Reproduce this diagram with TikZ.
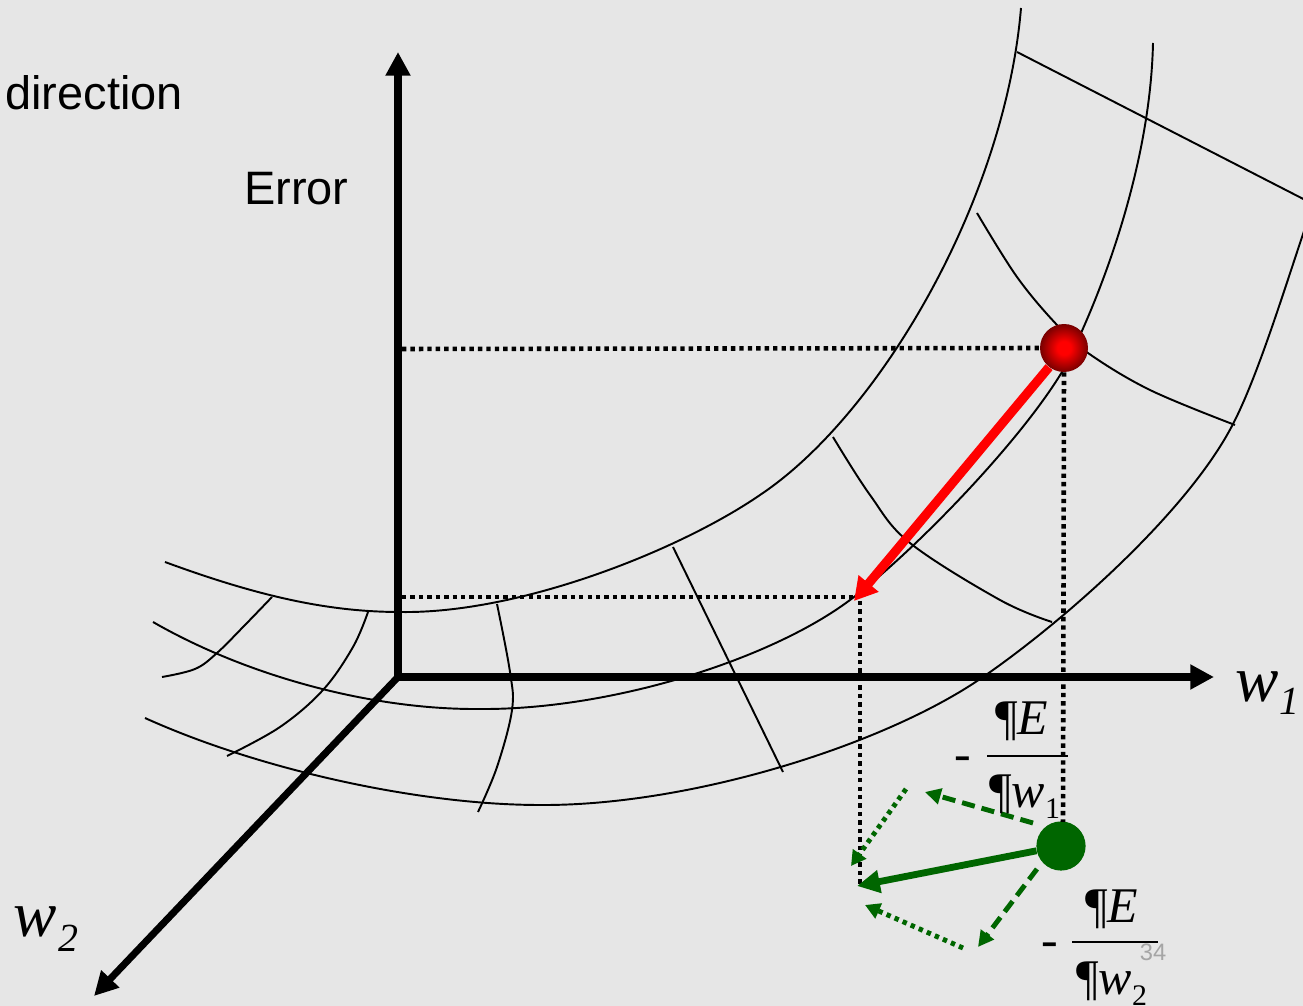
\documentclass[tikz,border=0pt]{standalone}
\usepackage{fontspec}
\setmainfont{Liberation Serif}
\newfontfamily\labelfont{Liberation Sans}
\usetikzlibrary{arrows.meta}
\definecolor{bgc}{RGB}{230,230,230}
\definecolor{dkgreen}{RGB}{0,102,0}
\definecolor{ballred}{RGB}{255,0,0}
\definecolor{balldark}{RGB}{120,0,0}
\definecolor{pagegray}{RGB}{165,165,165}
\pgfdeclareradialshading{redballshade}{\pgfpoint{0bp}{0bp}}{color(0bp)=(ballred); color(7bp)=(ballred); color(25bp)=(balldark); color(50bp)=(balldark)}
\begin{document}
\begin{tikzpicture}[x=0.02cm,y=-0.02cm,
  surf/.style={line width=1.1pt},
  axisline/.style={line width=4pt},
  guide/.style={line width=2.6pt,dash pattern=on 2.5pt off 2.3pt},
  redarrow/.style={line width=5.2pt,draw=ballred,-{Triangle[length=13pt,width=14pt]}},
  gsolid/.style={line width=3.9pt,draw=dkgreen,-{Triangle[length=13pt,width=12.5pt,fill=dkgreen]}},
  gdashed/.style={line width=2.8pt,draw=dkgreen,dash pattern=on 7.5pt off 4pt,-{Triangle[length=9pt,width=9pt]}},
  gdotted/.style={line width=2.8pt,draw=dkgreen,dash pattern=on 2.5pt off 2.5pt,-{Triangle[length=8.5pt,width=9pt]}},
  sanslabel/.style={font=\labelfont\fontsize{26.7pt}{32pt}\selectfont,inner sep=0pt},
  serif/.style={inner sep=0pt,font=\fontsize{28.4pt}{32pt}\selectfont},
  axislabel/.style={inner sep=0pt,font=\fontsize{37pt}{40pt}\selectfont\itshape}
]
\fill[bgc] (0,0) rectangle (1303,1006);
\useasboundingbox (0,0) rectangle (1303,1006);

\begin{scope}
\clip (0,0) rectangle (1303,1006);
% surface curves
\draw[surf] (165,562) .. controls (260,597) and (330,612) .. (400,612)
  .. controls (520,614) and (680,550) .. (760,495)
  .. controls (880,415) and (1005,200) .. (1021,8);
\draw[surf] (153,622) .. controls (245,675) and (370,710) .. (480,709)
  .. controls (610,710) and (770,660) .. (850,600)
  .. controls (910,555) and (1017,446) .. (1062,372)
  .. controls (1090,320) and (1150,180) .. (1153,43);
\draw[surf] (145,718) .. controls (260,770) and (420,805) .. (540,805)
  .. controls (690,806) and (885,745) .. (983,677)
  .. controls (1063,622) and (1188,512) .. (1233,424)
  .. controls (1263,366) and (1295,253) .. (1320,185);
% cross lines
\draw[surf] plot[smooth,tension=0.6] coordinates {(162,677) (195,669) (217,653) (245,625) (272,597)};
\draw[surf] plot[smooth,tension=0.6] coordinates {(368,612) (353,647) (323,690) (280,727) (227,756)};
\draw[surf] plot[smooth,tension=0.6] coordinates {(497,604) (510,672) (512,710) (497,767) (478,812)};
\draw[surf] (673,547) -- (783,772);
\draw[surf] plot[smooth,tension=0.6] coordinates {(833,437) (870,495) (910,543) (1000,600) (1052,622)};
\draw[surf] plot[smooth,tension=0.6] coordinates {(977,213) (1017,277) (1057,325) (1088,353) (1150,390) (1235,425)};
\draw[surf] (1017,52) -- (1315,205);
\end{scope}

% axes
\coordinate (O) at (398,677);
\coordinate (ytip) at (398,52);
\coordinate (xtip) at (1214,677);
\coordinate (ztip) at (94,996);
\draw[axisline,{Triangle[length=13.5pt,width=13.5pt]}-{Triangle[length=13.5pt,width=13.5pt]}] (ytip) -- (O) -- (xtip);
\draw[axisline,line cap=round,-{Triangle[length=13.5pt,width=13.5pt]}] (O) -- (ztip);

% balls
\node[circle,minimum size=27.3pt,inner sep=0pt,shading=redballshade] (redball) at (1064,348) {};
\node[circle,minimum size=28pt,inner sep=0pt,fill=dkgreen] (greenball) at (1061,846) {};

% dotted guides
\coordinate (g1a) at (402,349);
\coordinate (g2a) at (1063,822);
\coordinate (g3a) at (402,597);
\coordinate (g3b) at (857,597);
\coordinate (g4a) at (860,601);
\coordinate (g4b) at (860,886);
\draw[guide] (g1a) -- (redball.west);
\draw[guide] (redball.south) -- (g2a);
\draw[guide] (g3a) -- (g3b);
\draw[guide] (g4a) -- (g4b);

% red step arrow
\coordinate (redtip) at (854,601);
\draw[redarrow] (redball.-128) -- (redtip);

% green arrows
\coordinate (gtip) at (857,886);
\coordinate (d1s) at (1033,823);
\coordinate (d1t) at (925,792);
\coordinate (d2s) at (1037,869);
\coordinate (d2t) at (978,947);
\coordinate (p1s) at (906,789);
\coordinate (p1t) at (851,866);
\coordinate (p2s) at (963,948);
\coordinate (p2t) at (865,905);
\draw[gsolid] (greenball) -- (gtip);
\draw[gdashed] (d1s) -- (d1t);
\draw[gdashed] (d2s) -- (d2t);
\draw[gdotted] (p1s) -- (p1t);
\draw[gdotted] (p2s) -- (p2t);

% labels
\node[sanslabel,anchor=base west] (dirlabel) at (5,110) {direction};
\node[sanslabel,anchor=base west] (errlabel) at (244,205) {Error};
\node[axislabel,anchor=base west] (w1label) at (1235,702) {w\kern0.5pt\raisebox{-7.4pt}{\fontsize{22.7pt}{24pt}\selectfont 1}};
\node[axislabel,anchor=base west] (w2label) at (13,937) {w\kern1pt\raisebox{-8.5pt}{\fontsize{22.7pt}{24pt}\selectfont 2}};

% fraction 1
\node[serif,anchor=base west] (m1) at (954,771) {-};
\draw[line width=1.7pt] (987,756) -- (1068,756);
\node[serif,anchor=base west] (n1) at (995,735) {¶\textit{E}};
\node[serif,anchor=base west] (d1) at (989,808) {¶\textit{w}\raisebox{-6pt}{\fontsize{17pt}{18pt}\selectfont 1}};
% fraction 2
\node[serif,anchor=base west] (m2) at (1041,957) {-};
\draw[line width=1.7pt] (1072,942) -- (1158,942);
\node[serif,anchor=base west] (n2) at (1085,923) {¶\textit{E}};
\node[serif,anchor=base west] (d2) at (1076,995) {¶\textit{w}\raisebox{-6pt}{\fontsize{17pt}{18pt}\selectfont 2}};

\node[inner sep=0pt,text=pagegray,font=\labelfont\fontsize{13.5pt}{15pt}\selectfont] (pagenum) at (1153,952) {34};
\end{tikzpicture}
\end{document}
